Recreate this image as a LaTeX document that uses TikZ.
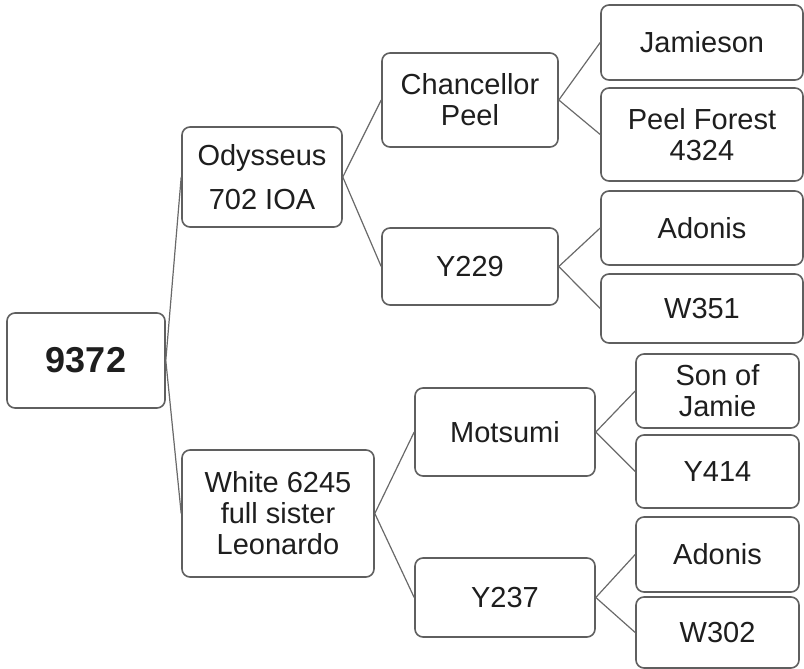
\documentclass[tikz,border=0pt]{standalone}
\usepackage{fontspec}
\setmainfont{Liberation Sans}
\usepackage{tikz}
\usetikzlibrary{positioning}
\definecolor{boxline}{RGB}{95,95,95}
\definecolor{linkgray}{RGB}{105,105,105}
\definecolor{inkgray}{RGB}{30,30,30}

\begin{document}
\begin{tikzpicture}[
  x=0.5pt, y=-0.5pt,
  every node/.style={font=\fontsize{14.5}{15.5}\selectfont, text=inkgray},
  animal/.style={draw=boxline, line width=0.8pt, fill=white, rounded corners=4pt, align=center, inner sep=0pt},
  wh/.style 2 args={minimum width=#1, minimum height=#2},
  link/.style={draw=linkgray, line width=0.6pt}
]
\useasboundingbox (0,0) rectangle (804,669);

\node[animal, wh={79pt}{47.5pt}, font=\fontsize{18}{20}\selectfont\bfseries] (root) at (86,360.5) {9372};

\node[animal, wh={80pt}{50pt}] (ody) at (262,177) {Odysseus\\[6.5pt]702 IOA};
\node[animal, wh={96pt}{63.5pt}] (white) at (278,513.5) {White 6245\\full sister\\Leonardo};

\node[animal, wh={88pt}{47pt}] (chan) at (470,100) {Chancellor\\Peel};
\node[animal, wh={88pt}{38.5pt}] (y229) at (470,266.5) {Y229};
\node[animal, wh={90pt}{44pt}] (mots) at (505,432) {Motsumi};
\node[animal, wh={90pt}{39.5pt}] (y237) at (505,597.5) {Y237};

\node[animal, wh={101pt}{37.5pt}] (jam) at (702,42.5) {Jamieson};
\node[animal, wh={101pt}{46.5pt}] (peel) at (702,134.5) {Peel Forest\\4324};
\node[animal, wh={101pt}{37pt}] (adon1) at (702,228) {Adonis};
\node[animal, wh={101pt}{34.5pt}] (w351) at (702,308.5) {W351};
\node[animal, wh={81.5pt}{37pt}] (son) at (717.5,391) {Son of\\Jamie};
\node[animal, wh={81.5pt}{36.5pt}] (y414) at (717.5,471.5) {Y414};
\node[animal, wh={81.5pt}{37.5pt}] (adon2) at (717.5,554.5) {Adonis};
\node[animal, wh={81.5pt}{35.5pt}] (w302) at (717.5,632.5) {W302};

\draw[link] (root.east) -- (ody.west);
\draw[link] (root.east) -- (white.west);
\draw[link] (ody.east) -- (chan.west);
\draw[link] (ody.east) -- (y229.west);
\draw[link] (white.east) -- (mots.west);
\draw[link] (white.east) -- (y237.west);
\draw[link] (chan.east) -- (jam.west);
\draw[link] (chan.east) -- (peel.west);
\draw[link] (y229.east) -- (adon1.west);
\draw[link] (y229.east) -- (w351.west);
\draw[link] (mots.east) -- (son.west);
\draw[link] (mots.east) -- (y414.west);
\draw[link] (y237.east) -- (adon2.west);
\draw[link] (y237.east) -- (w302.west);
\end{tikzpicture}
\end{document}
